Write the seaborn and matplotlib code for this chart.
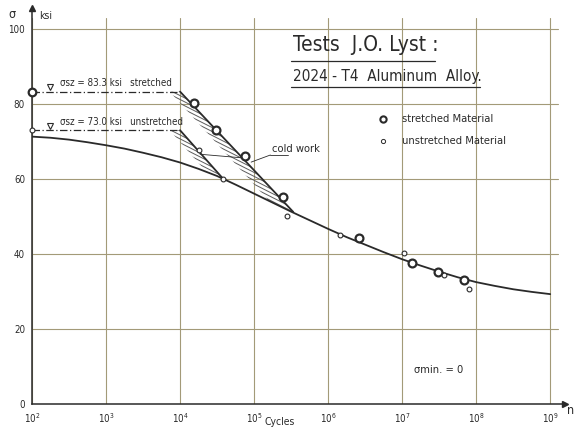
import numpy as np
import seaborn as sns
import matplotlib.pyplot as plt
from matplotlib.patches import Polygon

sns.set_style("white")
plt.rcParams['font.family'] = ['DejaVu Sans']
plt.rcParams['font.stretch'] = 'condensed'

# ---------------------------
# data (log10 of cycles, stress in ksi)
# ---------------------------
curve_logn = [2.0, 2.25, 2.5, 2.75, 3.0, 3.25, 3.5, 3.75, 4.0, 4.25, 4.5, 4.75, 5.0,
              5.25, 5.5, 5.75, 6.0, 6.25, 6.5, 6.75, 7.0, 7.25, 7.5, 7.75, 8.0,
              8.25, 8.5, 8.75, 9.0]
curve_sigma = [71.3, 71.0, 70.5, 69.8, 69.0, 68.1, 67.0, 65.8, 64.4, 62.7, 60.8, 58.5, 56.1,
               53.7, 51.3, 49.0, 46.7, 44.5, 42.5, 40.5, 38.6, 36.9, 35.3, 33.8, 32.5,
               31.5, 30.6, 29.9, 29.3]

stretched_logn = [4.19, 4.49, 4.88, 5.39, 6.42, 7.13, 7.49, 7.84]
stretched_sigma = [80.3, 73.1, 66.2, 55.3, 44.2, 37.7, 35.1, 33.1]

unstretched_logn = [4.26, 4.58, 5.44, 6.16, 7.02, 7.56, 7.90]
unstretched_sigma = [67.7, 60.1, 50.1, 45.0, 40.3, 34.3, 30.7]

static_stretched = 83.3
static_unstretched = 73.0
stretched_line_logn = [4.0, 5.53]
stretched_line_sigma = [83.3, 51.2]
unstretched_line_logn = [4.0, 4.58]
unstretched_line_sigma = [73.0, 60.1]

xtick_exp = [2, 3, 4, 5, 6, 7, 8, 9]
ytick_vals = [0, 20, 40, 60, 80, 100]

ink = '#2a2a2a'
grid_c = '#a39a78'

fig = plt.figure(figsize=(5.77, 4.32), dpi=100)
ax = fig.add_axes([32/577, 28/432, 533/577, 396/432])
ax.set_xscale('log')
ax.set_xlim(1e2, 10**9.2)
ax.set_ylim(0, 105.6)

# grid
for e in xtick_exp:
    ax.plot([10.0**e, 10.0**e], [0, 103], color=grid_c, lw=0.8, zorder=0)
for v in ytick_vals[1:]:
    ax.plot([1e2, 10**9.1], [v, v], color=grid_c, lw=0.8, zorder=0)

# main S-N curve
sns.lineplot(x=10.0**np.array(curve_logn), y=curve_sigma, color=ink, lw=1.3, ax=ax, sort=False)

# static strength lines (dash-dot) and diagonals
for s in [static_stretched, static_unstretched]:
    ax.plot([1e2, 1e4], [s, s], color=ink, lw=0.9, ls=(0, (6, 2, 1, 2)))
    ax.plot([10**2.24], [s + 1.2], marker='v', mfc='white', mec=ink, ms=5, mew=0.8)
ax.plot(10.0**np.array(stretched_line_logn), stretched_line_sigma, color=ink, lw=1.3)
ax.plot(10.0**np.array(unstretched_line_logn), unstretched_line_sigma, color=ink, lw=1.3)

# hatched cold work zones (shallow hand-drawn hatch, clipped to the zone)
zone_a = [(10**3.86, 83.3), (1e4, 83.3), (10**5.53, 51.2), (10**5.25, 53.7), (10**5.19, 54.4)]
zone_b = [(10**3.86, 73.0), (1e4, 73.0), (10**4.58, 60.1), (10**4.35, 62.0)]
for zone in [zone_a, zone_b]:
    patch = Polygon(zone, closed=True, fill=False, linewidth=0)
    ax.add_patch(patch)
    for c in np.arange(40, 140, 1.05):
        ln, = ax.plot([10**3.5, 10**6.0], [c, c - 25], color='#5c5c5c', lw=0.7, zorder=1)
        ln.set_clip_path(patch)

# measured points
sns.scatterplot(x=10.0**np.array(stretched_logn), y=stretched_sigma, marker='o', s=32,
                facecolor='white', edgecolor=ink, linewidth=1.6, ax=ax, zorder=5)
sns.scatterplot(x=10.0**np.array(unstretched_logn), y=unstretched_sigma, marker='o', s=12,
                facecolor='white', edgecolor=ink, linewidth=0.8, ax=ax, zorder=5)
ax.plot([1e2], [static_stretched], 'o', mfc='white', mec=ink, ms=5.5, mew=1.6, clip_on=False, zorder=6)
ax.plot([1e2], [static_unstretched], 'o', mfc='white', mec=ink, ms=3.5, mew=0.8, clip_on=False, zorder=6)

# labels on static lines
ax.text(10**2.38, 84.3, 'σsz = 83.3 ksi   stretched', fontsize=7, color=ink, va='bottom')
ax.text(10**2.38, 74.0, 'σsz = 73.0 ksi   unstretched', fontsize=7, color=ink, va='bottom')

# cold work label with leaders
ax.plot([10**4.27, 10**4.86], [66.6, 65.6], color=ink, lw=0.6)
ax.plot([10**4.96, 10**5.22], [64.5, 66.4], color=ink, lw=0.6)
ax.plot([10**5.22, 10**5.46], [66.4, 66.4], color=ink, lw=0.6)
ax.text(10**5.24, 66.8, 'cold work', fontsize=8, color=ink, va='bottom')

# title block
ax.text(10**5.52, 95.7, 'Tests  J.O. Lyst :', fontsize=15, color=ink, va='center')
ax.plot([10**5.5, 10**7.45], [91.4, 91.4], color=ink, lw=0.9)
ax.text(10**5.52, 87.4, '2024 - T4  Aluminum  Alloy.', fontsize=11, color=ink, va='center')
ax.plot([10**5.5, 10**8.05], [84.6, 84.6], color=ink, lw=0.9)

# legend
ax.plot([10**6.74], [76.0], 'o', mfc='white', mec=ink, ms=4.5, mew=1.5)
ax.text(10**7.0, 76.0, 'stretched Material', fontsize=8, color=ink, va='center')
ax.plot([10**6.74], [70.1], 'o', mfc='white', mec=ink, ms=3, mew=0.7)
ax.text(10**7.0, 70.1, 'unstretched Material', fontsize=8, color=ink, va='center')

ax.text(10**7.16, 9.1, 'σmin. = 0', fontsize=8, color=ink, va='center')

# axes and arrows
for side in ['top', 'right']:
    ax.spines[side].set_visible(False)
for side in ['left', 'bottom']:
    ax.spines[side].set_color(ink)
    ax.spines[side].set_linewidth(1.1)
ax.plot([0], [1.0], marker='^', color=ink, ms=5, transform=ax.transAxes, clip_on=False)
ax.plot([1.0], [0], marker='>', color=ink, ms=5, transform=ax.transAxes, clip_on=False)

ax.set_xticks([10.0**e for e in xtick_exp])
ax.set_xticklabels([f'$10^{{{e}}}$' for e in xtick_exp], fontsize=7, color=ink)
ax.xaxis.set_minor_locator(plt.NullLocator())
ax.set_yticks(ytick_vals)
ax.set_yticklabels([str(v) for v in ytick_vals], fontsize=7, color=ink)
ax.tick_params(length=0, pad=5)

fig.text(280/577, 1 - 422/432, 'Cycles', fontsize=7.5, color=ink, ha='center', va='center')
fig.text(571/577, 1 - 411/432, 'n', fontsize=9, color=ink, ha='center', va='center')
fig.text(12/577, 1 - 15/432, 'σ', fontsize=9, color=ink, ha='center', va='center')
fig.text(46/577, 1 - 16/432, 'ksi', fontsize=7.5, color=ink, ha='center', va='center')

fig.savefig('out.png', dpi=100, facecolor='white')
